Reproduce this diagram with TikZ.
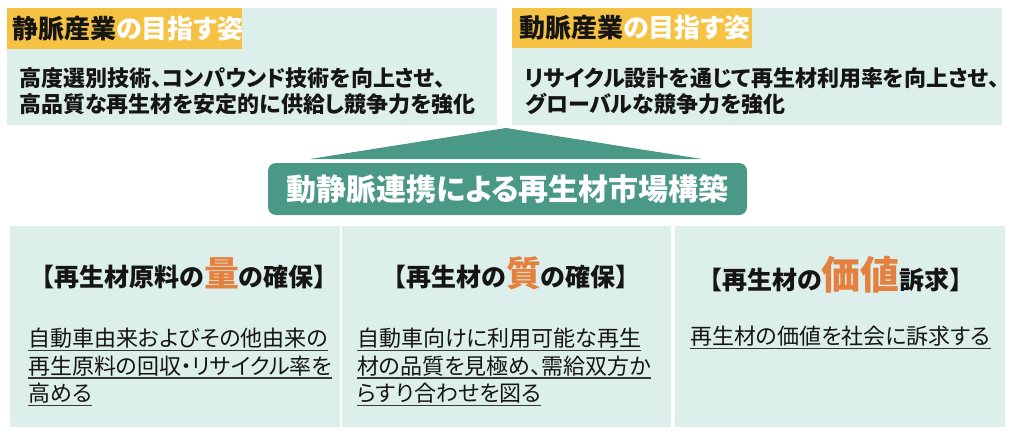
\documentclass[tikz,border=0pt]{standalone}
\usepackage{fontspec}
\newfontfamily\jp{Noto Sans CJK JP}[RawFeature=+palt]
\definecolor{pale}{HTML}{DDEFEA}
\definecolor{teal}{HTML}{4A9987}
\definecolor{ylw}{HTML}{F6C244}
\definecolor{org}{HTML}{E4813E}
\definecolor{ink}{HTML}{151515}
\newcommand\ulbox[1]{\setbox0=\hbox{#1}\rlap{\color{ink!85}\rule[-4.5pt]{\wd0}{1.2pt}}\box0}
\begin{document}
\begin{tikzpicture}[x=1pt,y=-1pt,
  panel/.style={fill=pale},
  tag/.style={anchor=west, inner sep=0pt, text=ink, font=\jp\bfseries\fontsize{26}{26}\selectfont},
  topbody/.style={anchor=west, inner sep=0pt, align=left, text=ink, font=\jp\bfseries\fontsize{22}{26}\selectfont},
  head/.style={anchor=base, inner sep=0pt, text=ink, font=\jp\bfseries\fontsize{25}{25}\selectfont},
  body/.style={anchor=west, inner sep=0pt, align=left, text=ink, font=\jp\fontsize{22}{27.5}\selectfont}]
\useasboundingbox (0,0) rectangle (1024,444);
\fill[white] (0,0) rectangle (1024,444);
% top panels
\fill[panel] (7,8) rectangle (497,125);
\fill[ylw] (7,8) rectangle (242,49);
\fill[panel] (512,8) rectangle (1002,125);
\fill[ylw] (512,8) rectangle (752,48);
\node[tag] (t1) at (12,28.5) {静脈産業\textcolor{white}{の目指す姿}};
\node[tag] (t2) at (519,28) {動脈産業\textcolor{white}{の目指す姿}};
\node[topbody] (b1) at (19,91) {高度選別技術、コンパウンド技術を向上させ、\\高品質な再生材を安定的に供給し競争力を強化};
\node[topbody] (b2) at (525,91) {リサイクル設計を通じて再生材利用率を向上させ、\\グローバルな競争力を強化};
% roof + title
\fill[teal] (506,128) -- (702,159) -- (310,159) -- cycle;
\node[fill=teal, rounded corners=8pt, minimum width=479pt, minimum height=52pt, inner sep=0pt,
  text=white, font=\jp\bfseries\fontsize{30}{30}\selectfont] (title) at (507.5,189) {動静脈連携による再生材市場構築};
% bottom panels
\fill[panel] (10,226) rectangle (340,427);
\fill[panel] (342,226) rectangle (671,427);
\fill[panel] (675,226) rectangle (1005,427);
\node[head] (h1) at (184,286) {【再生材原料の{\color{org}\fontsize{35}{35}\selectfont 量}の確保】};
\node[head] (h2) at (511,286) {【再生材の{\color{org}\fontsize{35}{35}\selectfont 質}の確保】};
\node[head] (h3) at (836,289) {【再生材の{\color{org}\fontsize{39}{39}\selectfont 価値}訴求】};
\node[body] (p1) at (28,367) {\ulbox{自動車由来およびその他由来の}\\\ulbox{再生原料の回収・リサイクル率を}\\\ulbox{高める}};
\node[body] (p2) at (357,367) {\ulbox{自動車向けに利用可能な再生}\\\ulbox{材の品質を見極め、需給双方か}\\\ulbox{らすり合わせを図る}};
\node[body] (p3) at (690,338) {\ulbox{再生材の価値を社会に訴求する}};
\end{tikzpicture}
\end{document}
